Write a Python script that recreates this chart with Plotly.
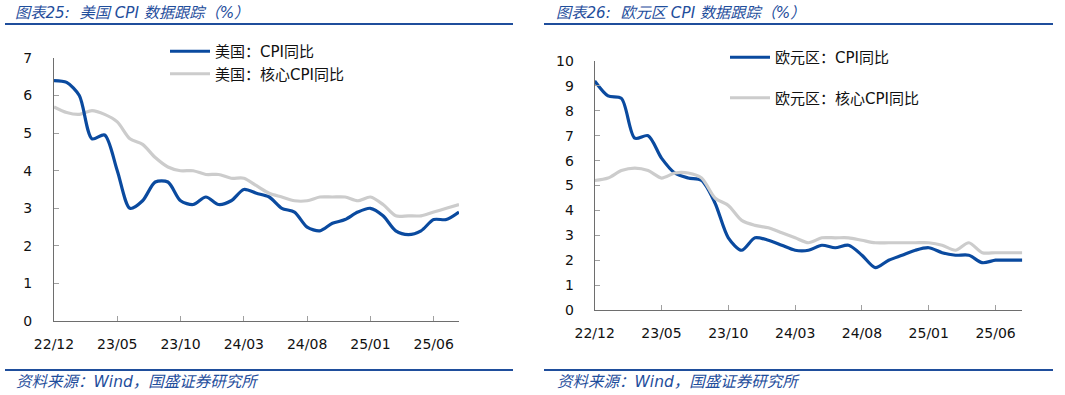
import plotly.graph_objects as go

# ---------------- data ----------------
months = ["22/12", "23/01", "23/02", "23/03", "23/04", "23/05", "23/06", "23/07", "23/08", "23/09",
          "23/10", "23/11", "23/12", "24/01", "24/02", "24/03", "24/04", "24/05", "24/06", "24/07",
          "24/08", "24/09", "24/10", "24/11", "24/12", "25/01", "25/02", "25/03", "25/04", "25/05",
          "25/06", "25/07", "25/08"]
tick_labels = ["22/12", "23/05", "23/10", "24/03", "24/08", "25/01", "25/06"]

us_cpi = [6.4, 6.35, 6.0, 4.85, 4.95, 4.0, 3.0, 3.2, 3.7, 3.7,
          3.2, 3.1, 3.3, 3.1, 3.2, 3.5, 3.4, 3.3, 3.0, 2.9,
          2.5, 2.4, 2.6, 2.7, 2.9, 3.0, 2.8, 2.4, 2.3, 2.4,
          2.7, 2.7, 2.9]
us_core = [5.7, 5.55, 5.5, 5.6, 5.5, 5.3, 4.85, 4.7, 4.35, 4.1,
           4.0, 4.0, 3.9, 3.9, 3.8, 3.8, 3.6, 3.4, 3.3, 3.2,
           3.2, 3.3, 3.3, 3.3, 3.2, 3.3, 3.1, 2.8, 2.8, 2.8,
           2.9, 3.0, 3.1]

ez_cpi = [9.2, 8.6, 8.5, 6.9, 7.0, 6.1, 5.5, 5.3, 5.2, 4.3,
          2.9, 2.4, 2.9, 2.8, 2.6, 2.4, 2.4, 2.6, 2.5, 2.6,
          2.2, 1.7, 2.0, 2.2, 2.4, 2.5, 2.3, 2.2, 2.2, 1.9,
          2.0, 2.0, 2.0]
ez_core = [5.2, 5.3, 5.6, 5.7, 5.6, 5.3, 5.5, 5.5, 5.3, 4.5,
           4.2, 3.6, 3.4, 3.3, 3.1, 2.9, 2.7, 2.9, 2.9, 2.9,
           2.8, 2.7, 2.7, 2.7, 2.7, 2.7, 2.6, 2.4, 2.7, 2.3,
           2.3, 2.3, 2.3]

# ---------------- style ----------------
W, H = 1065, 395
BLUE = "#0A4A9F"
GREY = "#CCCCCC"
TEXT_BLUE = "#1F4E9C"
FONT = "DejaVu Sans, Verdana, Noto Sans CJK SC"

def px_x(p):
    return p / W

def px_y(p):
    return 1 - p / H

fig = go.Figure()

fig.add_trace(go.Scatter(x=months, y=us_core, name="美国：核心CPI同比", mode="lines",
                         line=dict(color=GREY, width=3.2, shape="spline", smoothing=0.8),
                         xaxis="x", yaxis="y", legend="legend", legendgroup="b", legendrank=2))
fig.add_trace(go.Scatter(x=months, y=us_cpi, name="美国：CPI同比", mode="lines",
                         line=dict(color=BLUE, width=3.2, shape="spline", smoothing=0.8),
                         xaxis="x", yaxis="y", legend="legend", legendgroup="a", legendrank=1))
fig.add_trace(go.Scatter(x=months, y=ez_cpi, name="欧元区：CPI同比", mode="lines",
                         line=dict(color=BLUE, width=3.2, shape="spline", smoothing=0.8),
                         xaxis="x2", yaxis="y2", legend="legend2", legendgroup="c", legendrank=1))
fig.add_trace(go.Scatter(x=months, y=ez_core, name="欧元区：核心CPI同比", mode="lines",
                         line=dict(color=GREY, width=3.2, shape="spline", smoothing=0.8),
                         xaxis="x2", yaxis="y2", legend="legend2", legendgroup="d", legendrank=2))

axis_common = dict(showgrid=False, zeroline=False, showline=True, linecolor="#6E6E6E",
                   linewidth=1, ticks="inside", ticklen=5, tickcolor="#A0A0A0", tickwidth=1,
                   automargin=False,
                   tickfont=dict(family=FONT, size=14, color="#111111"))

fig.update_layout(
    width=W, height=H,
    margin=dict(l=0, r=0, t=0, b=0, autoexpand=False),
    paper_bgcolor="white", plot_bgcolor="white",
    font=dict(family=FONT, size=13, color="#111111"),
    xaxis=dict(domain=[px_x(54), px_x(459)], anchor="y", type="category",
               range=[0, len(months) - 1], tickvals=tick_labels, ticklabelstandoff=10,
               **axis_common),
    yaxis=dict(domain=[px_y(321), px_y(58)], anchor="x", range=[0, 7], dtick=1,
               ticklabelstandoff=18, **axis_common),
    xaxis2=dict(domain=[px_x(594.7), px_x(1022.3)], anchor="y2", type="category",
                range=[0, len(months) - 1], tickvals=tick_labels, ticklabelstandoff=10,
                **axis_common),
    yaxis2=dict(domain=[px_y(310), px_y(61)], anchor="x2", range=[0, 10], dtick=1,
                ticklabelstandoff=17, **axis_common),
    legend=dict(x=px_x(165), y=px_y(35), xanchor="left", yanchor="top",
                bgcolor="rgba(0,0,0,0)", traceorder="grouped", tracegroupgap=0,
                font=dict(family=FONT, size=15, color="#111111"), itemwidth=40),
    legend2=dict(x=px_x(725), y=px_y(41), xanchor="left", yanchor="top",
                 bgcolor="rgba(0,0,0,0)", traceorder="grouped", tracegroupgap=18,
                 font=dict(family=FONT, size=15, color="#111111"), itemwidth=40),
    showlegend=True,
)

# title / source texts and separator lines
for x0, x1, xt, title in [(5, 513, 13, "图表25:  美国 CPI 数据跟踪（%）"),
                          (544, 1053, 554, "图表26:  欧元区 CPI 数据跟踪（%）")]:
    fig.add_shape(type="line", xref="paper", yref="paper", x0=px_x(x0), x1=px_x(x1),
                  y0=px_y(24), y1=px_y(24), line=dict(color=TEXT_BLUE, width=2))
    fig.add_shape(type="line", xref="paper", yref="paper", x0=px_x(x0), x1=px_x(x1),
                  y0=px_y(370), y1=px_y(370), line=dict(color=TEXT_BLUE, width=2))
    fig.add_annotation(xref="paper", yref="paper", x=px_x(xt), y=px_y(13),
                       xanchor="left", yanchor="middle", showarrow=False,
                       text="<i>" + title + "</i>",
                       font=dict(family=FONT, size=15.2, color=TEXT_BLUE))
    fig.add_annotation(xref="paper", yref="paper", x=px_x(xt + 1), y=px_y(382),
                       xanchor="left", yanchor="middle", showarrow=False,
                       text="<i>资料来源：Wind，国盛证券研究所</i>",
                       font=dict(family=FONT, size=15.5, color=TEXT_BLUE))

fig.write_html("out.html",
               config={"displayModeBar": False},
               post_script="document.body.style.margin='0';document.body.style.padding='0';"
                           "document.documentElement.style.overflow='hidden';")
